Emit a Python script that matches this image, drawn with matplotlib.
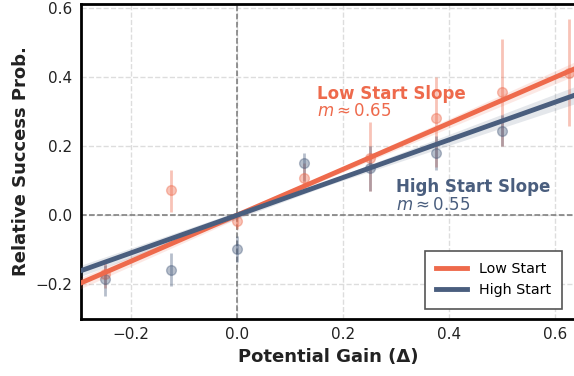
import matplotlib.pyplot as plt
import numpy as np

gain_low = [-0.25, -0.125, 0.0, 0.125, 0.25, 0.375, 0.5, 0.625]
low_mean = [-0.17, 0.072, -0.017, 0.107, 0.165, 0.28, 0.355, 0.41]
low_lo = [-0.21, 0.01, -0.04, 0.07, 0.07, 0.14, 0.20, 0.257]
low_hi = [-0.13, 0.13, 0.01, 0.15, 0.27, 0.40, 0.51, 0.566]

gain_high = [-0.25, -0.125, 0.0, 0.125, 0.25, 0.375, 0.5]
high_mean = [-0.185, -0.159, -0.098, 0.15, 0.135, 0.18, 0.243]
high_lo = [-0.235, -0.205, -0.135, 0.10, 0.07, 0.13, 0.20]
high_hi = [-0.145, -0.11, -0.06, 0.18, 0.20, 0.23, 0.29]

low_slope, low_icpt = 0.665, 0.0
high_slope, high_icpt = 0.545, 0.0
band_x = [-0.3, 0.17, 0.64]
low_band = [0.016, 0.007, 0.02]
high_band = [0.016, 0.007, 0.025]

c_low = '#EE6A4C'
c_high = '#4A5E7E'

plt.rcParams['font.family'] = 'DejaVu Sans'
fig = plt.figure(figsize=(5.74, 3.76), dpi=100)
ax = fig.add_axes([0.141, 0.152, 0.86, 0.837])

ax.set_xlim(-0.295, 0.636)
ax.set_ylim(-0.30, 0.61)
ax.grid(True, linestyle='--', color='#dddddd', linewidth=1)
ax.set_axisbelow(True)
ax.axhline(0, color='#777777', linestyle='--', linewidth=1.1, zorder=1)
ax.axvline(0, color='#777777', linestyle='--', linewidth=1.1, zorder=1)

for g, mean, lo, hi, c in [(gain_low, low_mean, low_lo, low_hi, c_low),
                           (gain_high, high_mean, high_lo, high_hi, c_high)]:
    mean = np.array(mean)
    err = [mean - np.array(lo), np.array(hi) - mean]
    ax.errorbar(g, mean, yerr=err, fmt='o', color=c, alpha=0.4,
                markersize=7, elinewidth=2, capsize=0, zorder=2)

bx = np.array(band_x)
for slope, icpt, band, c, lab in [(low_slope, low_icpt, low_band, c_low, 'Low Start'),
                                   (high_slope, high_icpt, high_band, c_high, 'High Start')]:
    yy = slope * bx + icpt
    ax.fill_between(bx, yy - np.array(band), yy + np.array(band), color=c, alpha=0.15, lw=0, zorder=3)
    ax.plot(bx, yy, color=c, linewidth=3.5, label=lab, zorder=4)

ax.text(0.151, 0.35, 'Low Start Slope', color=c_low, fontsize=12, fontweight='bold', va='center')
ax.text(0.151, 0.30, r'$m \approx 0.65$', color=c_low, fontsize=12, va='center')
ax.text(0.30, 0.08, 'High Start Slope', color=c_high, fontsize=12, fontweight='bold', va='center')
ax.text(0.30, 0.028, r'$m \approx 0.55$', color=c_high, fontsize=12, va='center')

ax.set_xticks([-0.2, 0.0, 0.2, 0.4, 0.6])
ax.set_yticks([-0.2, 0.0, 0.2, 0.4, 0.6])
ax.tick_params(length=0, labelsize=11, colors='#222222', pad=6)
for s in ax.spines.values():
    s.set_color('black')
    s.set_linewidth(2)
ax.spines['right'].set_visible(False)

ax.set_xlabel('Potential Gain (Δ)', fontsize=13, fontweight='bold', color='#222222')
ax.set_ylabel('Relative Success Prob.', fontsize=13, fontweight='bold', color='#222222')

leg = ax.legend(loc='lower right', fontsize=10.3, fancybox=False, framealpha=1,
                edgecolor='#555555', borderpad=0.8, handlelength=2.2,
                bbox_to_anchor=(0.99, 0.01))
leg.get_frame().set_linewidth(1.2)

fig.savefig('out.png', dpi=100)
